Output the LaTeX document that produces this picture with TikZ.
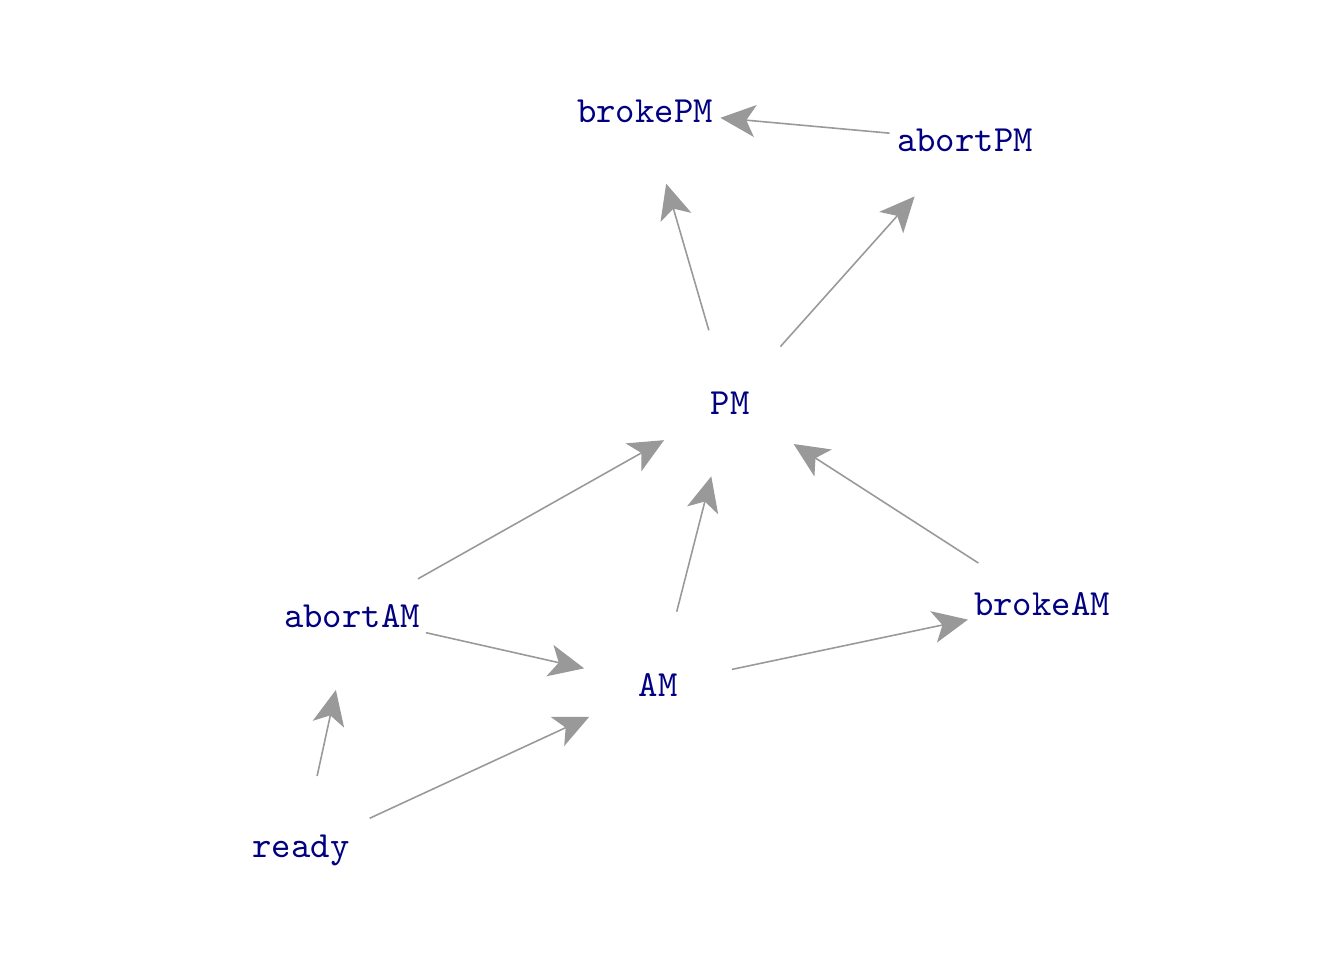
\documentclass[tikz,border=0pt]{standalone}
\usepackage{tikz}
\usetikzlibrary{arrows.meta}
\usepackage{xcolor}
\definecolor{labelnavy}{HTML}{000080}
\definecolor{edgegrey}{HTML}{999999}

\tikzset{
  state/.style={circle, minimum size=1.5cm, inner sep=0pt, text=labelnavy, font=\ttfamily\fontsize{10.5}{12}\selectfont},
  trans/.style={draw=edgegrey, line width=0.45pt, -{Stealth[length=3.5mm, width=3.2mm, inset=0.9mm]}}
}

\begin{document}
\begin{tikzpicture}
\useasboundingbox (0,0) rectangle (13.44,9.6);
% states
\node[state] (brokePM) at (6.45,8.49) {brokePM};
\node[state] (abortPM) at (9.65,8.20) {abortPM};
\node[state] (PM) at (7.30,5.57) {PM};
\node[state] (abortAM) at (3.52,3.44) {abortAM};
\node[state] (AM) at (6.58,2.75) {AM};
\node[state] (brokeAM) at (10.42,3.56) {brokeAM};
\node[state] (ready) at (3.01,1.10) {ready};
% transitions
\draw[trans] (ready) -- (abortAM);
\draw[trans] (ready) -- (AM);
\draw[trans] (abortAM) -- (AM);
\draw[trans] (abortAM) -- (PM);
\draw[trans] (AM) -- (PM);
\draw[trans] (AM) -- (brokeAM);
\draw[trans] (brokeAM) -- (PM);
\draw[trans] (PM) -- (brokePM);
\draw[trans] (PM) -- (abortPM);
\draw[trans] (abortPM) -- (brokePM);
\end{tikzpicture}
\end{document}
